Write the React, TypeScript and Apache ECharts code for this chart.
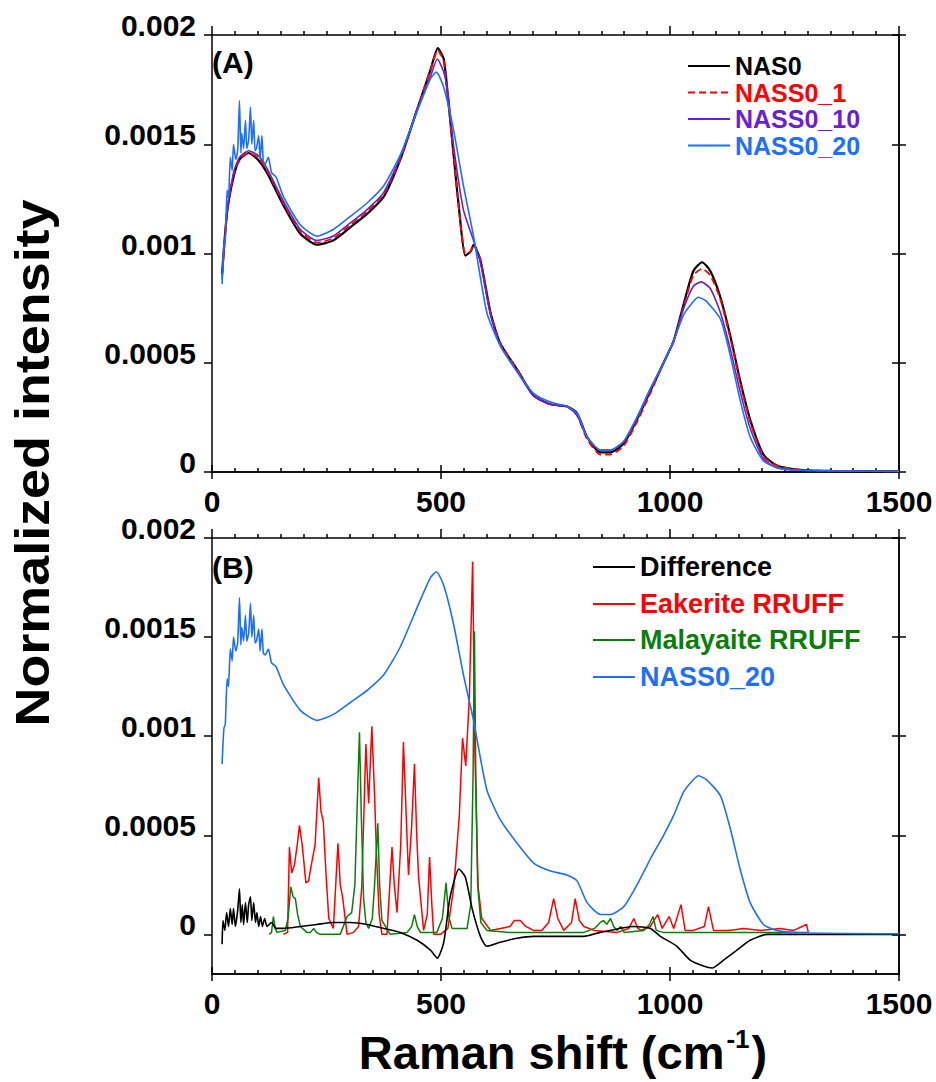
import React, { useEffect, useRef } from "react";
import * as echarts from "echarts";

type P = [number, number];

// ---------- axis ticks ----------
const X_MIN = 0;
const X_MAX = 1500;
const X_INTERVAL = 500;
const Y_TICKS = [0, 0.0005, 0.001, 0.0015, 0.002];
const Y_MIN_A = 0;
const Y_MIN_B = -0.0002;
const Y_MAX = 0.002;

// ---------- Panel (A) ----------
const NAS0: P[] = [
  [22, 0.00091], [33, 0.00119], [47, 0.00135], [60, 0.00143], [80, 0.00146], [100, 0.00143],
  [120, 0.00137], [156, 0.00122], [193, 0.00109], [229, 0.00104], [265, 0.00106], [302, 0.00112],
  [338, 0.00118], [375, 0.00126], [411, 0.00143], [448, 0.00166], [477, 0.00184], [493, 0.00194],
  [506, 0.00189], [516, 0.0017], [527, 0.00146], [542, 0.00115], [553, 0.00099], [565, 0.00101],
  [571, 0.00104], [586, 0.00097], [608, 0.00073], [629, 0.00059], [666, 0.00047], [702, 0.00035],
  [739, 0.00031], [775, 0.0003], [797, 0.00027], [819, 0.00016], [848, 0.00009], [870, 0.00009],
  [899, 0.00013], [928, 0.00024], [957, 0.00037], [986, 0.0005], [1008, 0.0006], [1030, 0.00077],
  [1051, 0.00092], [1070, 0.00096], [1088, 0.00092], [1110, 0.0008], [1132, 0.00062], [1153, 0.00042],
  [1175, 0.00024], [1204, 0.00008], [1233, 0.00003], [1284, 0.00001], [1350, 0.000005], [1500, 0.000003],
];

const NASS0_1: P[] = [
  [22, 0.0009], [33, 0.00119], [47, 0.00136], [60, 0.00143], [80, 0.00146], [100, 0.00144],
  [120, 0.00138], [156, 0.00123], [193, 0.0011], [229, 0.00105], [265, 0.00107], [302, 0.00113],
  [338, 0.00119], [375, 0.00127], [411, 0.00143], [448, 0.00166], [477, 0.00184], [493, 0.00193],
  [506, 0.00188], [516, 0.00169], [527, 0.00146], [542, 0.00115], [553, 0.001], [565, 0.00101],
  [571, 0.00104], [586, 0.00097], [608, 0.00073], [629, 0.00059], [666, 0.00047], [702, 0.00035],
  [739, 0.00031], [775, 0.0003], [797, 0.00026], [819, 0.00015], [848, 0.00008], [870, 0.00008],
  [899, 0.00012], [928, 0.00023], [957, 0.00036], [986, 0.0005], [1008, 0.0006], [1030, 0.00076],
  [1051, 0.0009], [1070, 0.00093], [1088, 0.0009], [1110, 0.00079], [1132, 0.00061], [1153, 0.00041],
  [1175, 0.00023], [1204, 0.00007], [1233, 0.00003], [1284, 0.00001], [1350, 0.000005], [1500, 0.000003],
];

const NASS0_10: P[] = [
  [22, 0.00088], [33, 0.00119], [47, 0.00137], [60, 0.00144], [80, 0.00147], [100, 0.00145],
  [120, 0.00139], [156, 0.00124], [193, 0.00111], [229, 0.00106], [265, 0.00108], [302, 0.00114],
  [338, 0.0012], [375, 0.00128], [411, 0.00144], [448, 0.00166], [477, 0.00181], [492, 0.00189],
  [506, 0.00183], [516, 0.00172], [527, 0.0015], [549, 0.0012], [571, 0.00106], [586, 0.00096],
  [608, 0.00072], [629, 0.00058], [666, 0.00046], [702, 0.00035], [739, 0.00031], [775, 0.0003],
  [797, 0.00026], [819, 0.00016], [848, 0.0001], [870, 0.0001], [899, 0.00014], [928, 0.00025],
  [957, 0.00038], [986, 0.0005], [1008, 0.0006], [1030, 0.00075], [1051, 0.00085], [1068, 0.00087],
  [1088, 0.00084], [1110, 0.00073], [1132, 0.00056], [1153, 0.00037], [1175, 0.0002], [1204, 0.00006],
  [1233, 0.00002], [1284, 0.000008], [1500, 0.000003],
];

const NASS0_20: P[] = [
  [22, 0.00086], [26, 0.00104], [29, 0.00106], [33, 0.00129], [36, 0.00125], [40, 0.00144],
  [44, 0.00138], [47, 0.0015], [52, 0.00143], [56, 0.00147], [60, 0.0017], [63, 0.00146],
  [65, 0.00155], [69, 0.00148], [73, 0.00161], [76, 0.00148], [80, 0.00152], [84, 0.00167],
  [87, 0.0015], [91, 0.00161], [94, 0.00147], [97, 0.00148], [102, 0.00154], [105, 0.00143],
  [109, 0.00154], [112, 0.00142], [116, 0.00141], [123, 0.00144], [130, 0.00137], [140, 0.00135],
  [156, 0.00126], [193, 0.00113], [229, 0.00108], [265, 0.00111], [302, 0.00117], [338, 0.00123],
  [375, 0.00131], [411, 0.00145], [448, 0.00165], [477, 0.0018], [490, 0.00183], [506, 0.00176],
  [527, 0.00157], [549, 0.00131], [571, 0.00108], [600, 0.00073], [629, 0.00058], [666, 0.00046],
  [702, 0.00036], [739, 0.00032], [775, 0.0003], [797, 0.00027], [819, 0.00016], [848, 0.0001],
  [870, 0.0001], [899, 0.00014], [928, 0.00025], [957, 0.00038], [986, 0.0005], [1008, 0.0006],
  [1030, 0.00072], [1051, 0.00078], [1062, 0.0008], [1080, 0.00078], [1110, 0.0007], [1132, 0.00053],
  [1153, 0.00033], [1175, 0.00016], [1204, 0.00005], [1233, 0.00002], [1284, 0.000008], [1500, 0.000003],
];

// ---------- Panel (B) ----------
const DIFFERENCE: P[] = [
  [22, -0.00005], [24, 0.00007], [28, 0.00002], [32, 0.00011], [36, 0.00004], [40, 0.00013],
  [44, 0.00005], [47, 0.00013], [51, 0.00004], [56, 0.00012], [60, 0.00023], [63, 0.00006],
  [66, 0.00015], [69, 0.00005], [73, 0.00016], [77, 0.00006], [80, 0.00015], [84, 0.00019],
  [87, 0.00007], [91, 0.00016], [95, 0.00006], [98, 0.00011], [102, 0.00004], [106, 0.00009],
  [110, 0.00004], [115, 0.00008], [120, 0.00004], [130, 0.00006], [140, 0.00003], [156, 0.00003],
  [193, 0.00004], [229, 0.00005], [265, 0.00006], [302, 0.00006], [338, 0.00005], [375, 0.00003],
  [411, 0.00001], [448, -0.00003], [477, -0.00008], [492, -0.00012], [506, -0.00004], [520, 0.00019],
  [539, 0.00033], [553, 0.00029], [568, 0.00013], [586, -0.00001], [600, -0.00006], [629, -0.00004],
  [666, -0.00002], [702, -0.00001], [739, -0.00001], [812, -0.00001], [848, 0.00001], [920, 0.00004],
  [957, 0.00003], [979, -0.00001], [1015, -0.00006], [1044, -0.00013], [1073, -0.00016], [1092, -0.00017],
  [1117, -0.00013], [1146, -0.00008], [1175, -0.00003], [1212, 0], [1300, 0], [1500, 0],
];

const EAKERITE: P[] = [
  [156, 0], [165, 0.00001], [169, 0.00044], [174, 0.00031], [180, 0.00035], [186, 0.00045],
  [191, 0.00055], [197, 0.00045], [205, 0.00026], [211, 0.00027], [216, 0.00034], [225, 0.00045],
  [233, 0.00079], [238, 0.00062], [243, 0.00057], [249, 0.0003], [255, 0.00008], [265, 0.00003],
  [275, 0.00046], [280, 0.00025], [285, 0.00019], [295, 0], [309, 0.00001], [320, 0.00004],
  [327, 0.00024], [336, 0.00096], [342, 0.00066], [349, 0.00105], [355, 0.0007], [359, 0.00041],
  [365, 0.0001], [371, 0], [382, 0], [393, 0.00044], [398, 0.00025], [404, 0.00011],
  [412, 0.00045], [418, 0.00097], [424, 0.0006], [429, 0.0003], [436, 0.00055], [442, 0.00086],
  [447, 0.0005], [451, 0.00029], [462, 0.00002], [470, 0.0001], [475, 0.00039], [480, 0.00015],
  [484, 0], [499, 0], [515, 0.00003], [528, 0.00024], [540, 0.0006], [547, 0.00099],
  [554, 0.00085], [562, 0.0012], [569, 0.00188], [574, 0.00092], [581, 0.00024], [589, 0.00008],
  [608, 0.00002], [630, 0.00003], [651, 0.00004], [660, 0.00007], [673, 0.00007], [685, 0.00004],
  [702, 0.00002], [720, 0.00002], [735, 0.00006], [746, 0.00018], [755, 0.00008], [768, 0.00002],
  [785, 0.00006], [793, 0.00018], [802, 0.00007], [812, 0.00004], [834, 0.00002], [885, 0.00001],
  [910, 0.00003], [921, 0.00008], [930, 0.00003], [936, 0.00002], [957, 0.00004], [973, 0.0001],
  [983, 0.00003], [998, 0.00009], [1008, 0.00003], [1024, 0.00015], [1033, 0.00002], [1051, 0.00002],
  [1075, 0.00004], [1084, 0.00014], [1095, 0.00002], [1130, 0.00002], [1160, 0.00003], [1200, 0.00002],
  [1240, 0.00003], [1270, 0.00002], [1298, 0.00005], [1302, 0.00001],
];

const MALAYAITE: P[] = [
  [125, 0], [130, 0.00001], [134, 0.00009], [138, 0.00003], [142, 0.00001], [160, 0.00002],
  [166, 0.00008], [172, 0.00024], [177, 0.00019], [182, 0.00018], [187, 0.0001], [193, 0.00004],
  [207, 0.00001], [215, 0.00001], [222, 0.00003], [228, 0.00001], [236, 0], [280, 0],
  [295, 0.00009], [305, 0.00011], [312, 0.00025], [317, 0.00065], [322, 0.00102], [326, 0.0006],
  [331, 0.00018], [336, 0.00006], [342, 0.00003], [350, 0.00008], [355, 0.00025], [362, 0.00056],
  [366, 0.00025], [371, 0.00007], [389, 0], [426, 0.00001], [436, 0.00004], [442, 0.0001],
  [448, 0.00004], [455, 0.00001], [491, 0.00001], [503, 0.00008], [511, 0.00026], [517, 0.00009],
  [524, 0.00003], [557, 0.00003], [565, 0.00015], [570, 0.0008], [573, 0.00153], [576, 0.0008],
  [580, 0.00025], [587, 0.00006], [600, 0.00002], [650, 0.00001], [700, 0.00001], [780, 0.00001],
  [812, 0.00001], [835, 0.00003], [848, 0.00006], [855, 0.00007], [862, 0.00005], [870, 0.00008],
  [877, 0.00004], [885, 0.00002], [892, 0.00004], [900, 0.00001], [943, 0.00002], [955, 0.00005],
  [963, 0.00009], [970, 0.00002], [985, 0.00001], [1100, 0.00001], [1300, 0.00001],
];

const C_BLACK = "#000000";
const C_RED = "#ff0000";
const C_PURPLE = "#6a1fd2";
const C_BLUE = "#1f6fff";
const C_GREEN = "#0b7d0b";

const FONT = "'Liberation Sans', Arial, sans-serif";

const GRID_LEFT = 212;
const GRID_WIDTH = 687;

export default function App() {
  const ref = useRef<HTMLDivElement>(null);

  useEffect(() => {
    const chart = echarts.init(ref.current!, null, { renderer: "svg" });

    const axisLine = { show: true, onZero: false, lineStyle: { color: "#000", width: 1.5 } };
    const tickStyle = { color: "#000", width: 1.5 };

    const makeXAxes = (gridIndex: number) => [
      {
        type: "value", gridIndex, position: "bottom", min: X_MIN, max: X_MAX, interval: X_INTERVAL,
        axisLine, splitLine: { show: false },
        axisTick: { show: true, inside: false, length: 7, lineStyle: tickStyle },
        axisLabel: {
          show: true, margin: 14, color: "#000", fontFamily: FONT, fontWeight: "bold", fontSize: 30,
          formatter: (v: number) => String(v),
        },
      },
      {
        type: "value", gridIndex, position: "bottom", min: X_MIN, max: X_MAX, interval: X_INTERVAL,
        axisLine, splitLine: { show: false },
        axisTick: { show: true, inside: true, length: 7, lineStyle: tickStyle },
        minorTick: { show: true, splitNumber: 10, length: 4, lineStyle: tickStyle },
        axisLabel: { show: false },
      },
      {
        type: "value", gridIndex, position: "top", min: X_MIN, max: X_MAX, interval: X_INTERVAL,
        axisLine, splitLine: { show: false },
        axisTick: { show: true, inside: false, length: 9, lineStyle: tickStyle },
        minorTick: { show: true, splitNumber: 10, length: 4, lineStyle: tickStyle },
        axisLabel: { show: false },
      },
    ];

    const makeYAxes = (gridIndex: number, min: number) => [
      {
        type: "value", gridIndex, position: "left", min, max: Y_MAX,
        axisLine, splitLine: { show: false },
        axisTick: { show: true, inside: false, length: 8, lineStyle: tickStyle, customValues: Y_TICKS },
        axisLabel: {
          show: true, margin: 16, color: "#000", fontFamily: FONT, fontWeight: "bold", fontSize: 30,
          customValues: Y_TICKS, verticalAlign: "bottom", lineHeight: 19,
          formatter: (v: number) => String(parseFloat(v.toPrecision(6))),
        },
      },
      {
        type: "value", gridIndex, position: "right", min, max: Y_MAX,
        axisLine, splitLine: { show: false },
        axisTick: { show: true, inside: false, length: 7, lineStyle: tickStyle, customValues: Y_TICKS },
        axisLabel: { show: false, customValues: Y_TICKS },
      },
      {
        type: "value", gridIndex, position: "right", min, max: Y_MAX,
        axisLine, splitLine: { show: false },
        axisTick: { show: true, inside: true, length: 7, lineStyle: tickStyle, customValues: Y_TICKS },
        axisLabel: { show: false, customValues: Y_TICKS },
      },
    ];

    const line = (
      name: string, data: P[], color: string, xi: number, yi: number,
      width = 1.6, type: any = "solid", z = 2, smooth: number | boolean = false,
    ) => ({
      name, type: "line", data, xAxisIndex: xi, yAxisIndex: yi, showSymbol: false, symbol: "none",
      smooth,
      lineStyle: { color, width, type }, itemStyle: { color }, z, animation: false,
    });

    const legendRow = (x: number, y: number, text: string, color: string, size: number, dash?: number[]) => [
      {
        type: "line", shape: { x1: x, y1: y, x2: x + 42, y2: y },
        style: { stroke: color, lineWidth: 1.8, lineDash: dash },
      },
      {
        type: "text", x: x + 47, y,
        style: { text, fill: color, font: `bold ${size}px ${FONT}`, verticalAlign: "middle", align: "left" },
      },
    ];

    const option: any = {
      animation: false,
      backgroundColor: "#ffffff",
      grid: [
        { left: GRID_LEFT, top: 35, width: GRID_WIDTH, height: 437 },
        { left: GRID_LEFT, top: 538, width: GRID_WIDTH, height: 436 },
      ],
      xAxis: [...makeXAxes(0), ...makeXAxes(1)],
      yAxis: [...makeYAxes(0, Y_MIN_A), ...makeYAxes(1, Y_MIN_B)],
      series: [
        line("NAS0", NAS0, C_BLACK, 0, 0, 2.2, "solid", 2, 0.2),
        line("NASS0_1", NASS0_1, C_RED, 0, 0, 1.8, [7, 4], 3, 0.2),
        line("NASS0_10", NASS0_10, C_PURPLE, 0, 0, 1.6, "solid", 4, 0.2),
        line("NASS0_20", NASS0_20, C_BLUE, 0, 0, 1.6, "solid", 5, 0.2),
        line("Eakerite RRUFF", EAKERITE, C_RED, 3, 3, 1.5, "solid", 2),
        line("Malayaite RRUFF", MALAYAITE, C_GREEN, 3, 3, 1.5, "solid", 3),
        line("Difference", DIFFERENCE, C_BLACK, 3, 3, 1.6, "solid", 4, 0.2),
        line("NASS0_20 ", NASS0_20, C_BLUE, 3, 3, 1.6, "solid", 5, 0.2),
      ],
      graphic: [
        { type: "text", x: 212, y: 62, style: { text: "(A)", fill: "#000", font: `bold 30px ${FONT}`, verticalAlign: "middle" } },
        { type: "text", x: 212, y: 567, style: { text: "(B)", fill: "#000", font: `bold 30px ${FONT}`, verticalAlign: "middle" } },
        ...legendRow(688, 66, "NAS0", C_BLACK, 25),
        ...legendRow(688, 92.5, "NASS0_1", C_RED, 25, [7, 4]),
        ...legendRow(688, 119, "NASS0_10", C_PURPLE, 25),
        ...legendRow(688, 145.5, "NASS0_20", C_BLUE, 25),
        ...legendRow(593, 567, "Difference", C_BLACK, 27),
        ...legendRow(593, 604, "Eakerite RRUFF", C_RED, 27),
        ...legendRow(593, 640, "Malayaite RRUFF", C_GREEN, 27),
        ...legendRow(593, 677, "NASS0_20", C_BLUE, 27),
        {
          type: "text", x: 32, y: 463, rotation: Math.PI / 2, scaleX: 1.1,
          style: { text: "Normalized intensity", fill: "#000", font: `bold 49px ${FONT}`, align: "center", verticalAlign: "middle" },
        },
        {
          type: "text", x: 563, y: 1052,
          style: {
            text: "{a|Raman shift (cm}{s|-1}{a|)}",
            align: "center", verticalAlign: "middle",
            rich: {
              a: { fontFamily: FONT, fontWeight: "bold", fontSize: 47, fill: "#000", color: "#000" },
              s: { fontFamily: FONT, fontWeight: "bold", fontSize: 26, fill: "#000", color: "#000", verticalAlign: "top", padding: [0, 2, 26, 2] },
            },
          },
        },
      ],
    };

    chart.setOption(option);
    return () => chart.dispose();
  }, []);

  return (
    <div
      ref={ref}
      style={{ position: "absolute", left: 0, top: 0, width: 936, height: 1082, background: "#fff" }}
    />
  );
}
